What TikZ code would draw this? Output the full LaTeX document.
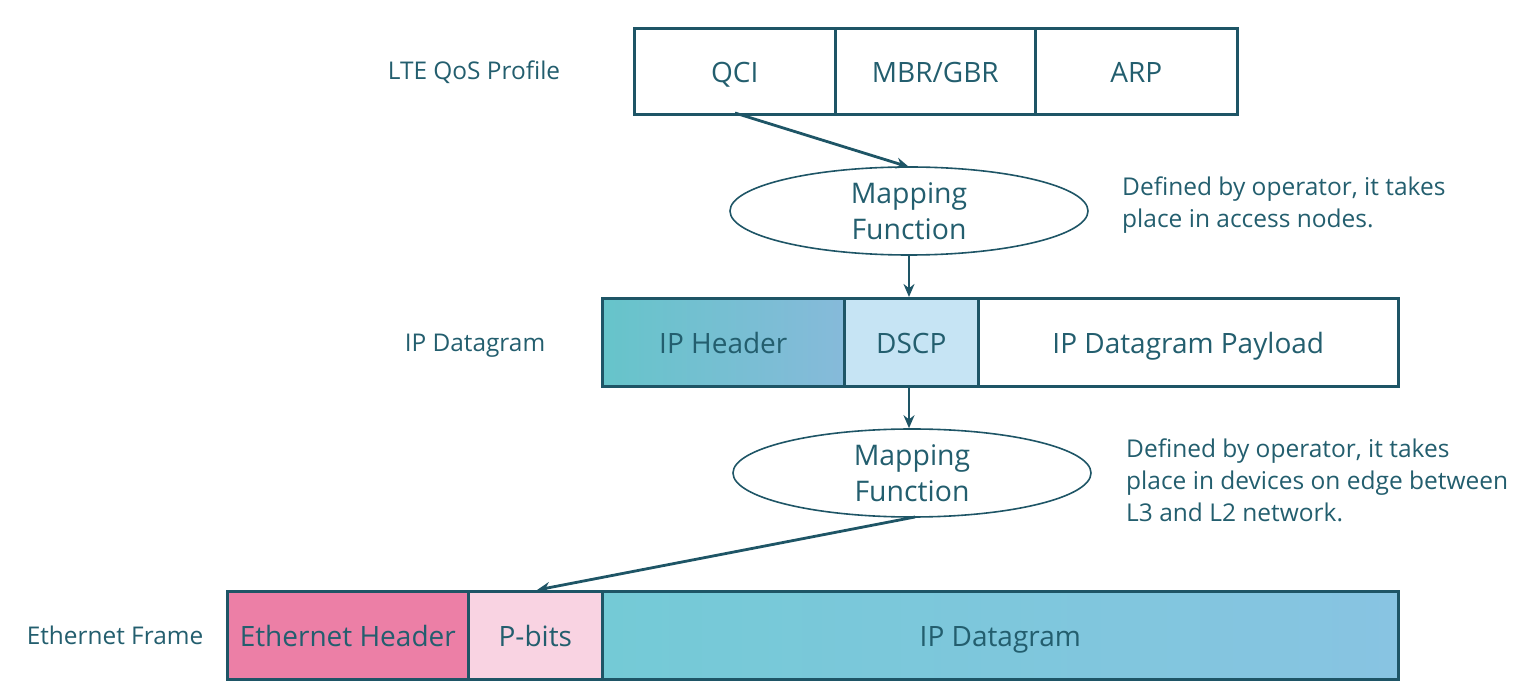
\documentclass[tikz,border=0pt]{standalone}
\usepackage{fontspec}
\setmainfont{Open Sans}
\usetikzlibrary{shapes.geometric,arrows.meta}
\definecolor{ink}{HTML}{1E5566}
\definecolor{txt}{HTML}{235E6E}
\definecolor{hdrA}{HTML}{66C4CA}
\definecolor{hdrB}{HTML}{86BADA}
\definecolor{ethA}{HTML}{EC7FA6}
\definecolor{dscpF}{HTML}{C6E4F4}
\definecolor{pbitF}{HTML}{F9D3E2}
\definecolor{dgA}{HTML}{74CAD6}
\definecolor{dgB}{HTML}{88C4E2}
\tikzset{
  fld/.style={draw=ink,line width=2.6pt,text=txt,font=\fontsize{28}{32}\selectfont,text height=24pt,text depth=1pt},
  lbl/.style={text=txt,font=\fontsize{24.4}{28}\selectfont,text height=19pt,text depth=1pt},
  desc/.style={text=txt,font=\fontsize{24.5}{32}\selectfont,align=left,anchor=north west,inner sep=0pt},
  mapf/.style={ellipse,draw=ink,line width=1.6pt,minimum width=358pt,minimum height=88pt,inner sep=0pt,text=txt,align=center,font=\fontsize{28.4}{36}\selectfont},
  arr/.style={draw=ink,line width=2.8pt,-{Stealth[length=13pt,width=11pt]}},
}
\begin{document}
\begin{tikzpicture}[x=1pt,y=-1pt]
\useasboundingbox (0,0) rectangle (1527,692);
% top row
\node[fld,minimum width=201pt,minimum height=86pt,anchor=north west] (qci) at (633,27) {QCI};
\node[fld,minimum width=200pt,minimum height=86pt,anchor=north west] (mbr) at (834,27) {MBR/GBR};
\node[fld,minimum width=202pt,minimum height=86pt,anchor=north west] (arp) at (1034,27) {ARP};
\node[lbl] (lte) at (474,71) {LTE QoS Profile};
% mapping 1
\node[mapf] (map1) at (909,211) {Mapping\\Function};
\node[desc] (d1) at (1122,177) {Defined by operator, it takes\\place in access nodes.};
% IP row
\node[fld,minimum width=242pt,minimum height=88pt,anchor=north west,left color=hdrA,right color=hdrB] (iph) at (601,297) {IP Header};
\node[fld,minimum width=134pt,minimum height=88pt,anchor=north west,fill=dscpF] (dscp) at (843,297) {DSCP};
\node[fld,minimum width=420pt,minimum height=88pt,anchor=north west,fill=white] (pay) at (977,297) {IP Datagram Payload};
\node[lbl] (ipd) at (475,343) {IP Datagram};
% mapping 2
\node[mapf] (map2) at (912,473) {Mapping\\Function};
\node[desc] (d2) at (1126,439) {Defined by operator, it takes\\place in devices on edge between\\L3 and L2 network.};
% Ethernet row
\node[fld,minimum width=241pt,minimum height=88pt,anchor=north west,fill=ethA] (eth) at (226,590) {Ethernet Header};
\node[fld,minimum width=134pt,minimum height=88pt,anchor=north west,fill=pbitF] (pb) at (467,590) {P-bits};
\node[fld,minimum width=796pt,minimum height=88pt,anchor=north west,left color=dgA,right color=dgB] (dg) at (601,590) {IP Datagram};
\node[lbl] (ef) at (115,635) {Ethernet Frame};
% arrows
\coordinate (a1s) at (735,113);
\coordinate (a1e) at (909,167);
\draw[arr] (a1s) -- (a1e);
\draw[arr] (map1.south) -- (map1.south |- iph.north);
\draw[arr] (map1.south |- iph.south) -- (map2.north -| map1.south);
\coordinate (a4s) at (915,517);
\coordinate (a4e) at (537,590);
\draw[arr] (a4s) -- (a4e);
\end{tikzpicture}
\end{document}
